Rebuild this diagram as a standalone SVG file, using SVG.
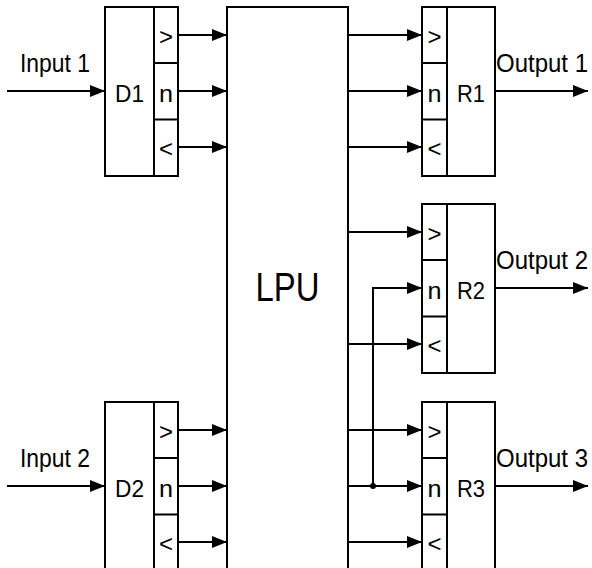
<svg xmlns="http://www.w3.org/2000/svg" width="592" height="568" viewBox="0 0 592 568">
<style>
.box{fill:#fff;stroke:#000;stroke-width:2}
.ln{fill:none;stroke:#000;stroke-width:2}
.con{fill:none;stroke:#000;stroke-width:2;marker-end:url(#ah)}
text{font-family:"Liberation Sans",Arial,sans-serif;fill:#000}
.lbl{font-size:24px;text-anchor:middle}
.sym{font-size:24px;text-anchor:middle}
.io{font-size:25px;text-anchor:middle}
.big{font-size:40px;text-anchor:middle}
</style>
<defs>
<marker id="ah" markerUnits="userSpaceOnUse" markerWidth="16" markerHeight="12" refX="15" refY="6" orient="auto">
<path d="M0,0 L15,6 L0,12 z" fill="#000"/>
</marker>
</defs>
<g id="LPU">
<rect class="box" x="227" y="7" width="121" height="600"/>
<text class="big" x="287.5" y="301" textLength="64" lengthAdjust="spacingAndGlyphs">LPU</text>
</g>
<g id="D1">
<rect class="box" x="105" y="7" width="73" height="169"/>
<path class="ln" d="M154,7V176M154,63H178M154,119.5H178"/>
<text class="lbl" x="129.5" y="102" textLength="29" lengthAdjust="spacingAndGlyphs">D1</text>
<text class="sym" x="166" y="45">&gt;</text>
<text class="sym" x="166" y="102" textLength="14" lengthAdjust="spacingAndGlyphs">n</text>
<text class="sym" x="166" y="157">&lt;</text>
</g>
<g id="D2">
<rect class="box" x="105" y="402" width="73" height="169"/>
<path class="ln" d="M154,402V571M154,458H178M154,514.5H178"/>
<text class="lbl" x="129.5" y="497" textLength="29" lengthAdjust="spacingAndGlyphs">D2</text>
<text class="sym" x="166" y="440">&gt;</text>
<text class="sym" x="166" y="497" textLength="14" lengthAdjust="spacingAndGlyphs">n</text>
<text class="sym" x="166" y="552">&lt;</text>
</g>
<g id="R1">
<rect class="box" x="422" y="7" width="73" height="169"/>
<path class="ln" d="M447,7V176M422,63H447M422,119.5H447"/>
<text class="lbl" x="471" y="102" textLength="28" lengthAdjust="spacingAndGlyphs">R1</text>
<text class="sym" x="434.5" y="45">&gt;</text>
<text class="sym" x="434.5" y="102" textLength="14" lengthAdjust="spacingAndGlyphs">n</text>
<text class="sym" x="434.5" y="157">&lt;</text>
</g>
<g id="R2">
<rect class="box" x="422" y="204" width="73" height="169"/>
<path class="ln" d="M447,204V373M422,260H447M422,316.5H447"/>
<text class="lbl" x="471" y="299" textLength="28" lengthAdjust="spacingAndGlyphs">R2</text>
<text class="sym" x="434.5" y="242">&gt;</text>
<text class="sym" x="434.5" y="299" textLength="14" lengthAdjust="spacingAndGlyphs">n</text>
<text class="sym" x="434.5" y="354">&lt;</text>
</g>
<g id="R3">
<rect class="box" x="422" y="402" width="73" height="169"/>
<path class="ln" d="M447,402V571M422,458H447M422,514.5H447"/>
<text class="lbl" x="471" y="497" textLength="28" lengthAdjust="spacingAndGlyphs">R3</text>
<text class="sym" x="434.5" y="440">&gt;</text>
<text class="sym" x="434.5" y="497" textLength="14" lengthAdjust="spacingAndGlyphs">n</text>
<text class="sym" x="434.5" y="552">&lt;</text>
</g>
<g id="connectors">
<path class="con" d="M7,91H105"/>
<path class="con" d="M7,486H105"/>
<path class="con" d="M178,35H227"/>
<path class="con" d="M178,91H227"/>
<path class="con" d="M178,147H227"/>
<path class="con" d="M178,430H227"/>
<path class="con" d="M178,486H227"/>
<path class="con" d="M178,542H227"/>
<path class="con" d="M348,35H422"/>
<path class="con" d="M348,91H422"/>
<path class="con" d="M348,147H422"/>
<path class="con" d="M348,232H422"/>
<path class="con" d="M348,344H422"/>
<path class="con" d="M348,430H422"/>
<path class="con" d="M348,486H422"/>
<path class="con" d="M348,542H422"/>
<path class="con" d="M373,486V288H422"/>
<circle cx="373" cy="486" r="3" fill="#000"/>
<path class="con" d="M495,91H588"/>
<path class="con" d="M495,288H588"/>
<path class="con" d="M495,486H588"/>
<text class="io" x="55" y="72" textLength="70" lengthAdjust="spacingAndGlyphs">Input 1</text>
<text class="io" x="55" y="467" textLength="70" lengthAdjust="spacingAndGlyphs">Input 2</text>
<text class="io" x="542" y="72" textLength="92" lengthAdjust="spacingAndGlyphs">Output 1</text>
<text class="io" x="542" y="269" textLength="92" lengthAdjust="spacingAndGlyphs">Output 2</text>
<text class="io" x="542" y="467" textLength="92" lengthAdjust="spacingAndGlyphs">Output 3</text>
</g>
</svg>
